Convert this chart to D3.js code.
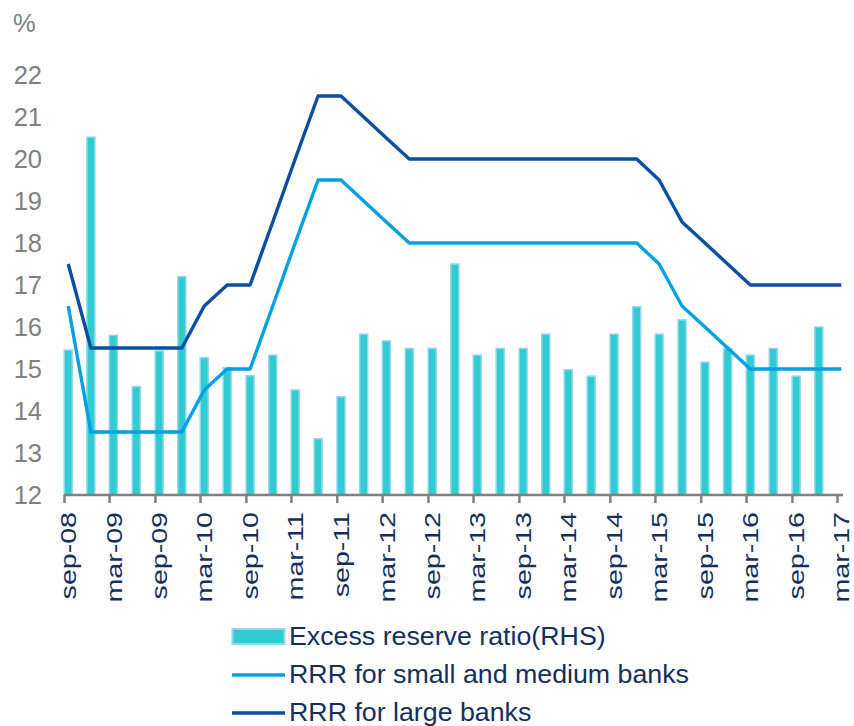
<!DOCTYPE html>
<html>
<head>
<meta charset="utf-8">
<script src="https://cdnjs.cloudflare.com/ajax/libs/d3/7.8.5/d3.min.js"></script>
<style>
  body { margin: 0; background: #fff; }
  svg { display: block; font-family: "Liberation Sans", Arial, sans-serif; }
</style>
</head>
<body>
<script>
// - RRR vs excess reserve ratio -

// Data

const quarters = ["sep-08","dec-08","mar-09","jun-09","sep-09","dec-09","mar-10","jun-10","sep-10","dec-10",
                  "mar-11","jun-11","sep-11","dec-11","mar-12","jun-12","sep-12","dec-12","mar-13","jun-13",
                  "sep-13","dec-13","mar-14","jun-14","sep-14","dec-14","mar-15","jun-15","sep-15","dec-15",
                  "mar-16","jun-16","sep-16","dec-16","mar-17"];

const excessReserve = [15.45, 20.52, 15.8, 14.58, 15.43, 17.2, 15.27, 15.03, 14.84, 15.33,
                       14.5, 13.34, 14.34, 15.83, 15.67, 15.49, 15.49, 17.5, 15.33, 15.49,
                       15.49, 15.83, 14.98, 14.83, 15.83, 16.48, 15.83, 16.17, 15.16, 15.49,
                       15.33, 15.49, 14.83, 16.0, null];

const rrrSmall = [16.5, 13.5, 13.5, 13.5, 13.5, 13.5, 14.5, 15, 15, 16.5,
                  18, 19.5, 19.5, 19, 18.5, 18, 18, 18, 18, 18,
                  18, 18, 18, 18, 18, 18, 17.5, 16.5, 16, 15.5,
                  15, 15, 15, 15, 15];

const rrrLarge = [17.5, 15.5, 15.5, 15.5, 15.5, 15.5, 16.5, 17, 17, 18.5,
                  20, 21.5, 21.5, 21, 20.5, 20, 20, 20, 20, 20,
                  20, 20, 20, 20, 20, 20, 19.5, 18.5, 18, 17.5,
                  17, 17, 17, 17, 17];

const yTicks = [12, 13, 14, 15, 16, 17, 18, 19, 20, 21, 22];

const legendNames = ["Excess reserve ratio(RHS)", "RRR for small and medium banks", "RRR for large banks"];

// Chart size

const w = 854,
      h = 726,
      plotLeft = 64,
      plotRight = 837,
      plotTop = 75,
      plotBottom = 495;

// Colors

const barFill = "#31cccf",
      barEdge = "#92d6f2",
      colSmall = "#00a1e2",
      colLarge = "#0b4ea2",
      navy = "#142f5c",
      grey = "#808080";

const parse = d3.timeParse("%b-%y");
const dates = quarters.map(q => parse(q));
// marks sit a bit to the right of the month tick
const markDate = d => d3.timeDay.offset(d, 17);

const x = d3.scaleTime()
            .domain([dates[0], dates[dates.length - 1]])
            .range([plotLeft, plotRight]);

const y = d3.scaleLinear()
            .domain([12, 22])
            .range([plotBottom, plotTop]);

// SVG

const svg = d3.select("body")
              .append("svg")
              .attr("width", w)
              .attr("height", h);

// Bars

const barW = 8;

svg.append("g")
   .selectAll("rect")
   .data(excessReserve.map((v, i) => ({ v: v, d: dates[i] })).filter(o => o.v != null))
   .enter()
   .append("rect")
   .attr("x", o => x(markDate(o.d)) - barW / 2)
   .attr("y", o => y(o.v))
   .attr("width", barW)
   .attr("height", o => y(12) - y(o.v))
   .attr("fill", barFill)
   .attr("stroke", barEdge)
   .attr("stroke-width", 1.5);

// Lines

const line = d3.line()
               .x((v, i) => x(markDate(dates[i])))
               .y(v => y(v));

svg.append("path")
   .attr("d", line(rrrSmall))
   .attr("fill", "none")
   .attr("stroke", colSmall)
   .attr("stroke-width", 3.4)
   .attr("stroke-linejoin", "round");

svg.append("path")
   .attr("d", line(rrrLarge))
   .attr("fill", "none")
   .attr("stroke", colLarge)
   .attr("stroke-width", 3.4)
   .attr("stroke-linejoin", "round");

// X axis

const xTickDates = dates.filter((d, i) => i % 2 === 0);

const xAxis = svg.append("g")
                 .attr("transform", "translate(0," + plotBottom + ")")
                 .call(d3.axisBottom(x)
                         .tickValues(xTickDates)
                         .tickSize(8)
                         .tickSizeOuter(0)
                         .tickFormat(d => d3.timeFormat("%b-%y")(d).toLowerCase()));

xAxis.select(".domain")
     .attr("stroke", grey)
     .attr("stroke-width", 2.5)
     .attr("d", "M" + plotLeft + ",0H" + (plotRight + 6));

xAxis.selectAll(".tick line")
     .attr("stroke", grey)
     .attr("stroke-width", 2.5);

// labels are stretched along the text, like the original
xAxis.selectAll(".tick text")
     .attr("fill", navy)
     .style("font-size", "22px")
     .attr("text-anchor", "end")
     .attr("dy", "0.36em")
     .attr("transform", "translate(4,17) rotate(-90) scale(1.3,1)")
     .attr("x", 0)
     .attr("y", 0);

// Y labels

svg.append("g")
   .selectAll("text")
   .data(yTicks)
   .enter()
   .append("text")
   .attr("x", 42)
   .attr("y", d => y(d))
   .attr("dy", "0.36em")
   .attr("text-anchor", "end")
   .attr("fill", grey)
   .style("font-size", "25.5px")
   .text(d => d);

svg.append("text")
   .attr("x", 13)
   .attr("y", 32)
   .attr("fill", grey)
   .style("font-size", "25.5px")
   .text("%");

// Legend

const legend = svg.append("g")
                  .attr("transform", "translate(232,636)");

legend.append("rect")
      .attr("x", 0.5)
      .attr("y", -7)
      .attr("width", 52)
      .attr("height", 15)
      .attr("fill", barFill)
      .attr("stroke", barEdge)
      .attr("stroke-width", 2);

legend.append("line")
      .attr("x1", 0).attr("x2", 53)
      .attr("y1", 39).attr("y2", 39)
      .attr("stroke", colSmall)
      .attr("stroke-width", 3.4);

legend.append("line")
      .attr("x1", 0).attr("x2", 53)
      .attr("y1", 77).attr("y2", 77)
      .attr("stroke", colLarge)
      .attr("stroke-width", 3.4);

legend.selectAll("text")
      .data(legendNames)
      .enter()
      .append("text")
      .attr("transform", (d, i) => "translate(57," + (i * 38) + ") scale(1.05,1)")
      .attr("dy", "0.36em")
      .attr("fill", navy)
      .style("font-size", "25.5px")
      .text(d => d);
</script>
</body>
</html>
